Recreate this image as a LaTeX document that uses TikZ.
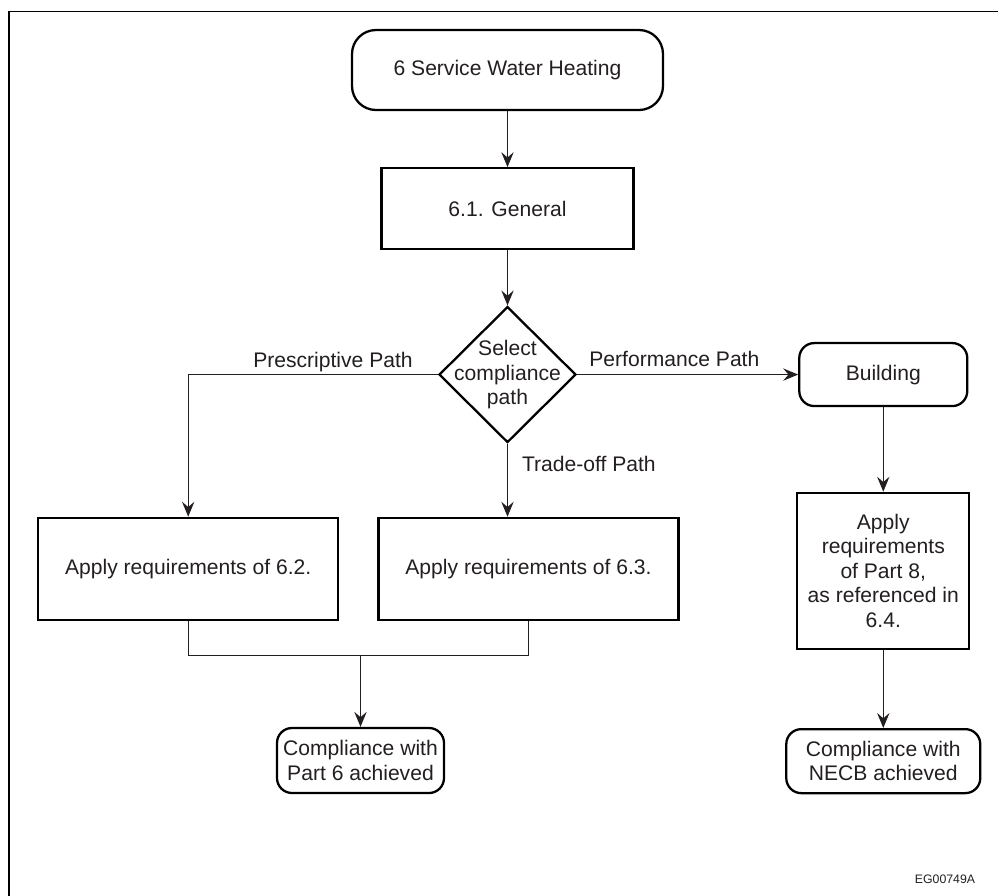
\documentclass[tikz,border=0pt]{standalone}
\usepackage{fontspec}
\setmainfont{Liberation Sans}
\usepackage{xcolor}
\usepackage{tikz}
\usetikzlibrary{positioning}
\usetikzlibrary{shapes}
\usetikzlibrary{arrows.meta}
\definecolor{ink}{HTML}{231F20}
\begin{document}
\begin{tikzpicture}[node distance=1cm and 1.5cm, font=\fontsize{12}{14}\selectfont, text=ink,
procbox/.style={draw=black, line width=1.3pt, rectangle, align=center, inner sep=0pt},
termbox/.style={draw=black, line width=1.3pt, rectangle, rounded corners=0.3cm, align=center, inner sep=0pt},
decision/.style={draw=black, line width=1.3pt, diamond, aspect=1, inner sep=0pt, minimum width=2.74cm, minimum height=2.72cm},
link/.style={draw=ink, line width=0.6pt},
arr/.style={link, -{Stealth[length=8.5pt, width=7pt, inset=3pt]}},
pathlbl/.style={text depth=0pt, inner sep=0pt}]
\useasboundingbox (0,0) rectangle (19.96,-17.92);
\draw[line width=1.1pt] (0.18,-17.92) -- (0.18,-0.23) -- (19.96,-0.23);

\node[termbox, rounded corners=0.48cm, minimum width=6.22cm, minimum height=1.6cm] (swh) at (10.15,-1.4) {6 Service Water Heating};
\node[procbox, minimum width=5.04cm, minimum height=1.62cm, below=1.12cm of swh] (gen) {6.1. General};
\node[decision, below=1.1cm of gen, label={[align=center]center:Select\\compliance\\path}] (sel) {};
\node[termbox, minimum width=3.36cm, minimum height=1.26cm, right=4.42cm of sel] (bld) {Building};
\node[procbox, minimum width=3.44cm, minimum height=3.12cm, below=1.69cm of bld] (p8) {Apply\\requirements\\of Part 8,\\as referenced in\\6.4.};
\node[termbox, minimum width=3.88cm, minimum height=1.28cm, below=1.56cm of p8] (necb) {Compliance with\\NECB achieved};
\node[procbox, minimum width=6cm, minimum height=2.04cm, below=1.46cm of sel, xshift=0.42cm] (r63) {Apply requirements of 6.3.};
\node[procbox, minimum width=6cm, minimum height=2.04cm, left=0.76cm of r63] (r62) {Apply requirements of 6.2.};
\node[termbox, minimum width=3.34cm, minimum height=1.3cm] (p6) at (7.21,-15.21) {Compliance with\\Part 6 achieved};
\coordinate[above=1.42cm of p6.north] (join);
\node[font=\fontsize{7}{8}\selectfont, anchor=base] (code) at (18.9,-17.66) {EG00749A};

\draw[arr] (swh) -- (gen);
\draw[arr] (gen) -- (sel);
\draw[arr] (sel.west) -| node[pathlbl, above=4pt, pos=0.21] {Prescriptive Path} (r62.north);
\draw[arr] (sel.east) -- node[pathlbl, above=4.5pt, pos=0.44] {Performance Path} (bld.west);
\draw[arr] (sel.south) -- node[pathlbl, right=8pt, pos=0.27] {Trade-off Path} (sel.south |- r63.north);
\draw[link] (r62.south) |- (join) -| (r63.south);
\draw[arr] (join) -- (p6.north);
\draw[arr] (bld) -- (p8);
\draw[arr] (p8) -- (necb);
\end{tikzpicture}
\end{document}
